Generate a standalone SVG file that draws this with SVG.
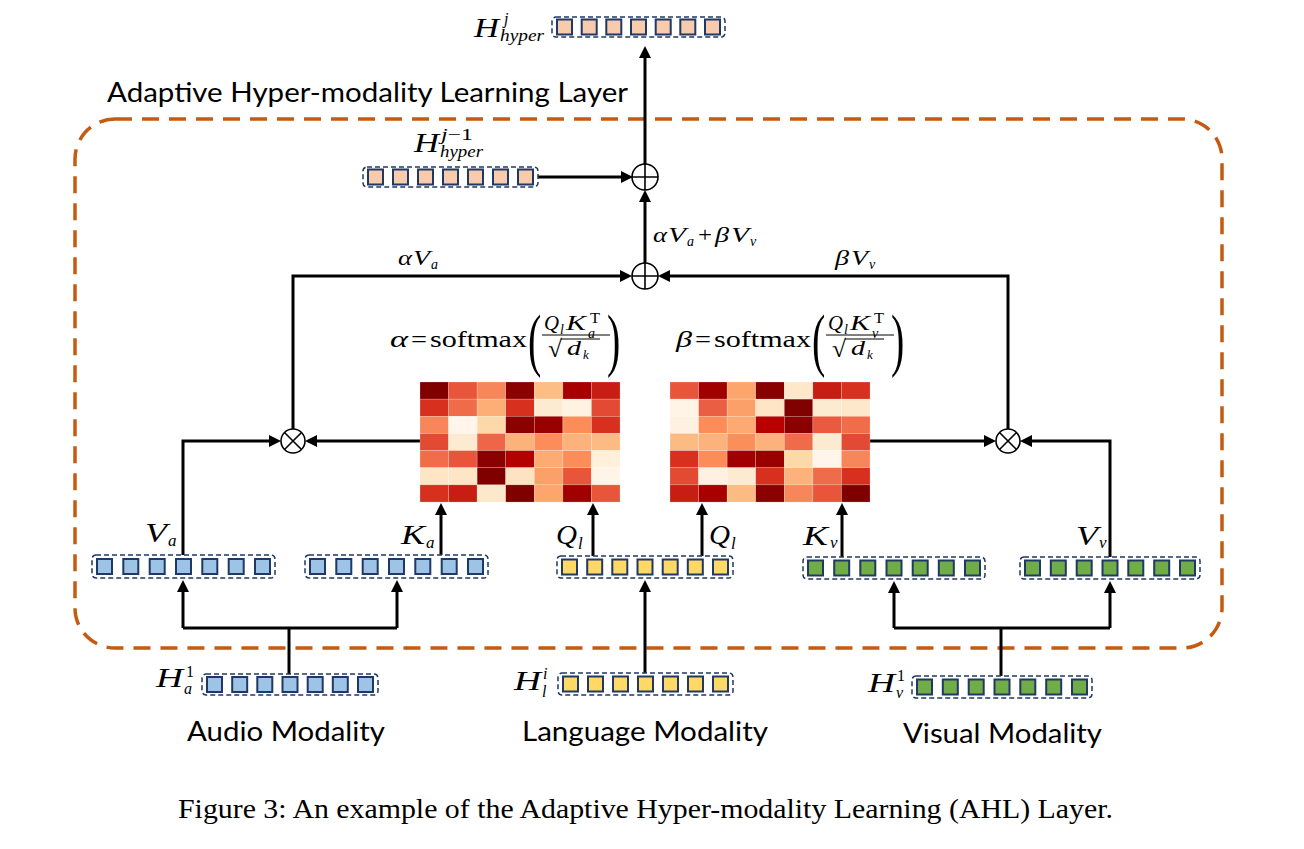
<svg xmlns="http://www.w3.org/2000/svg" width="1304" height="849" viewBox="0 0 1304 849">
  <style>
    .c { stroke: #000; stroke-width: 3; fill: none; }
    .arr { marker-end: url(#ah); }
    .box { fill: none; stroke: #1f3864; stroke-width: 1.5; stroke-dasharray: 5 3; }
    .sq { stroke: #1f3864; stroke-width: 2; }
    .blue { fill: #9dc3e6; }
    .yel { fill: #ffd966; }
    .grn { fill: #70ad47; }
    .pch { fill: #f8cbad; }
    .op { fill: #fff; stroke: #000; stroke-width: 1.6; }
    .mi { font-family: "Liberation Serif", "Times New Roman", serif; font-style: italic; fill: #000; }
    .mr { font-family: "Liberation Serif", "Times New Roman", serif; fill: #000; }
    .sans { font-family: Lato, "Open Sans", "Liberation Sans", sans-serif; fill: #000; font-size: 26px; }
    .cell { stroke: #fff; stroke-opacity: 0.35; stroke-width: 0.6; }
  </style>
  <defs>
    <marker id="ah" markerUnits="userSpaceOnUse" markerWidth="12" markerHeight="12" viewBox="0 0 12 12" refX="3" refY="6" orient="auto">
      <path d="M0,0 L12,6 L0,12 z" fill="#000"/>
    </marker>
  </defs>

  <rect width="1304" height="849" fill="#fff"/>

  <!-- layer frame -->
  <g id="ahl-frame">
    <rect x="75" y="119" width="1147" height="529" rx="40" ry="40" fill="none" stroke="#c55a11" stroke-width="3.5" stroke-dasharray="17 10"/>
    <text class="sans" x="107" y="102" textLength="521" lengthAdjust="spacingAndGlyphs">Adaptive Hyper-modality Learning Layer</text>
  </g>

  <!-- connectors -->
  <g id="connectors">
    <path class="c" d="M289,674 V628"/>
    <path class="c" d="M183,628 H397"/>
    <path class="c arr" d="M183,628 V589"/>
    <path class="c arr" d="M397,628 V589"/>
    <path class="c arr" d="M645,673 V589"/>
    <path class="c" d="M1001,676 V628"/>
    <path class="c" d="M894,628 H1110"/>
    <path class="c arr" d="M894,628 V590"/>
    <path class="c arr" d="M1110,628 V590"/>
    <path class="c arr" d="M441,555 V512"/>
    <path class="c arr" d="M593,556 V512"/>
    <path class="c arr" d="M702,556 V512"/>
    <path class="c arr" d="M842,557 V512"/>
    <path class="c arr" d="M183,555 V441 H272"/>
    <path class="c arr" d="M420,441 H314"/>
    <path class="c arr" d="M293,429 V276 H623"/>
    <path class="c arr" d="M870,441 H987"/>
    <path class="c arr" d="M1110,557 V441 H1029"/>
    <path class="c arr" d="M1008,429 V276 H667"/>
    <path class="c arr" d="M645,263 V199"/>
    <path class="c arr" d="M538,177 H624"/>
    <path class="c arr" d="M645,164 V55"/>
  </g>

  <!-- operators -->
  <g id="mul-audio">
    <circle class="op" cx="293" cy="441" r="12"/>
    <path d="M284.5,432.5 L301.5,449.5 M301.5,432.5 L284.5,449.5" stroke="#000" stroke-width="1.6"/>
  </g>
  <g id="mul-visual">
    <circle class="op" cx="1008" cy="441" r="12"/>
    <path d="M999.5,432.5 L1016.5,449.5 M1016.5,432.5 L999.5,449.5" stroke="#000" stroke-width="1.6"/>
  </g>
  <g id="add-attn">
    <circle class="op" cx="645" cy="276" r="13"/>
    <path d="M632,276 H658 M645,263 V289" stroke="#000" stroke-width="1.6"/>
  </g>
  <g id="add-residual">
    <circle class="op" cx="645" cy="177" r="13"/>
    <path d="M632,177 H658 M645,164 V190" stroke="#000" stroke-width="1.6"/>
  </g>

  <!-- attention maps -->
  <g id="attn-audio" transform="translate(420,382)">
    <rect class="cell" x="0" y="0" width="28.6" height="17.2" fill="#800000"/>
    <rect class="cell" x="28.57" y="0" width="28.6" height="17.2" fill="#e8553a"/>
    <rect class="cell" x="57.14" y="0" width="28.6" height="17.2" fill="#f7875a"/>
    <rect class="cell" x="85.71" y="0" width="28.6" height="17.2" fill="#8b0000"/>
    <rect class="cell" x="114.29" y="0" width="28.6" height="17.2" fill="#fdbe85"/>
    <rect class="cell" x="142.86" y="0" width="28.6" height="17.2" fill="#a80000"/>
    <rect class="cell" x="171.43" y="0" width="28.6" height="17.2" fill="#c81d13"/>

    <rect class="cell" x="0" y="17.14" width="28.6" height="17.2" fill="#d7301f"/>
    <rect class="cell" x="28.57" y="17.14" width="28.6" height="17.2" fill="#ef6c4a"/>
    <rect class="cell" x="57.14" y="17.14" width="28.6" height="17.2" fill="#fcae76"/>
    <rect class="cell" x="85.71" y="17.14" width="28.6" height="17.2" fill="#d7301f"/>
    <rect class="cell" x="114.29" y="17.14" width="28.6" height="17.2" fill="#fdebd1"/>
    <rect class="cell" x="142.86" y="17.14" width="28.6" height="17.2" fill="#fef2e0"/>
    <rect class="cell" x="171.43" y="17.14" width="28.6" height="17.2" fill="#e34a33"/>

    <rect class="cell" x="0" y="34.29" width="28.6" height="17.2" fill="#f7875a"/>
    <rect class="cell" x="28.57" y="34.29" width="28.6" height="17.2" fill="#fff5eb"/>
    <rect class="cell" x="57.14" y="34.29" width="28.6" height="17.2" fill="#fdd8a8"/>
    <rect class="cell" x="85.71" y="34.29" width="28.6" height="17.2" fill="#8b0000"/>
    <rect class="cell" x="114.29" y="34.29" width="28.6" height="17.2" fill="#990000"/>
    <rect class="cell" x="142.86" y="34.29" width="28.6" height="17.2" fill="#fc8d59"/>
    <rect class="cell" x="171.43" y="34.29" width="28.6" height="17.2" fill="#d7301f"/>

    <rect class="cell" x="0" y="51.43" width="28.6" height="17.2" fill="#e34a33"/>
    <rect class="cell" x="28.57" y="51.43" width="28.6" height="17.2" fill="#fdebd1"/>
    <rect class="cell" x="57.14" y="51.43" width="28.6" height="17.2" fill="#ef6548"/>
    <rect class="cell" x="85.71" y="51.43" width="28.6" height="17.2" fill="#fdb27b"/>
    <rect class="cell" x="114.29" y="51.43" width="28.6" height="17.2" fill="#fc8d59"/>
    <rect class="cell" x="142.86" y="51.43" width="28.6" height="17.2" fill="#fdb27b"/>
    <rect class="cell" x="171.43" y="51.43" width="28.6" height="17.2" fill="#fdbb84"/>

    <rect class="cell" x="0" y="68.57" width="28.6" height="17.2" fill="#f16d4a"/>
    <rect class="cell" x="28.57" y="68.57" width="28.6" height="17.2" fill="#e8553a"/>
    <rect class="cell" x="57.14" y="68.57" width="28.6" height="17.2" fill="#8b0000"/>
    <rect class="cell" x="85.71" y="68.57" width="28.6" height="17.2" fill="#b30000"/>
    <rect class="cell" x="114.29" y="68.57" width="28.6" height="17.2" fill="#fdab72"/>
    <rect class="cell" x="142.86" y="68.57" width="28.6" height="17.2" fill="#fc8d59"/>
    <rect class="cell" x="171.43" y="68.57" width="28.6" height="17.2" fill="#fef0db"/>

    <rect class="cell" x="0" y="85.71" width="28.6" height="17.2" fill="#fde5c6"/>
    <rect class="cell" x="28.57" y="85.71" width="28.6" height="17.2" fill="#fde5c6"/>
    <rect class="cell" x="57.14" y="85.71" width="28.6" height="17.2" fill="#800000"/>
    <rect class="cell" x="85.71" y="85.71" width="28.6" height="17.2" fill="#fde3c1"/>
    <rect class="cell" x="114.29" y="85.71" width="28.6" height="17.2" fill="#fca06a"/>
    <rect class="cell" x="142.86" y="85.71" width="28.6" height="17.2" fill="#e8553a"/>
    <rect class="cell" x="171.43" y="85.71" width="28.6" height="17.2" fill="#fff4e8"/>

    <rect class="cell" x="0" y="102.86" width="28.6" height="17.2" fill="#d7301f"/>
    <rect class="cell" x="28.57" y="102.86" width="28.6" height="17.2" fill="#c81d13"/>
    <rect class="cell" x="57.14" y="102.86" width="28.6" height="17.2" fill="#fde8cc"/>
    <rect class="cell" x="85.71" y="102.86" width="28.6" height="17.2" fill="#800000"/>
    <rect class="cell" x="114.29" y="102.86" width="28.6" height="17.2" fill="#fca66e"/>
    <rect class="cell" x="142.86" y="102.86" width="28.6" height="17.2" fill="#a00000"/>
    <rect class="cell" x="171.43" y="102.86" width="28.6" height="17.2" fill="#e8553a"/>
  </g>

  <g id="attn-visual" transform="translate(670,382)">
    <rect class="cell" x="0" y="0" width="28.6" height="17.2" fill="#e8553a"/>
    <rect class="cell" x="28.57" y="0" width="28.6" height="17.2" fill="#a00000"/>
    <rect class="cell" x="57.14" y="0" width="28.6" height="17.2" fill="#fca66e"/>
    <rect class="cell" x="85.71" y="0" width="28.6" height="17.2" fill="#880000"/>
    <rect class="cell" x="114.29" y="0" width="28.6" height="17.2" fill="#fde8cc"/>
    <rect class="cell" x="142.86" y="0" width="28.6" height="17.2" fill="#c81d13"/>
    <rect class="cell" x="171.43" y="0" width="28.6" height="17.2" fill="#d7301f"/>

    <rect class="cell" x="0" y="17.14" width="28.6" height="17.2" fill="#fff4e6"/>
    <rect class="cell" x="28.57" y="17.14" width="28.6" height="17.2" fill="#ea5f43"/>
    <rect class="cell" x="57.14" y="17.14" width="28.6" height="17.2" fill="#fca06a"/>
    <rect class="cell" x="85.71" y="17.14" width="28.6" height="17.2" fill="#fde5c6"/>
    <rect class="cell" x="114.29" y="17.14" width="28.6" height="17.2" fill="#800000"/>
    <rect class="cell" x="142.86" y="17.14" width="28.6" height="17.2" fill="#fdebd1"/>
    <rect class="cell" x="171.43" y="17.14" width="28.6" height="17.2" fill="#fde8cc"/>

    <rect class="cell" x="0" y="34.29" width="28.6" height="17.2" fill="#fff1e2"/>
    <rect class="cell" x="28.57" y="34.29" width="28.6" height="17.2" fill="#fc8d59"/>
    <rect class="cell" x="57.14" y="34.29" width="28.6" height="17.2" fill="#fcaa72"/>
    <rect class="cell" x="85.71" y="34.29" width="28.6" height="17.2" fill="#b80000"/>
    <rect class="cell" x="114.29" y="34.29" width="28.6" height="17.2" fill="#8b0000"/>
    <rect class="cell" x="142.86" y="34.29" width="28.6" height="17.2" fill="#ea5a40"/>
    <rect class="cell" x="171.43" y="34.29" width="28.6" height="17.2" fill="#f16d4a"/>

    <rect class="cell" x="0" y="51.43" width="28.6" height="17.2" fill="#fdbb84"/>
    <rect class="cell" x="28.57" y="51.43" width="28.6" height="17.2" fill="#fdb27b"/>
    <rect class="cell" x="57.14" y="51.43" width="28.6" height="17.2" fill="#fb8f5a"/>
    <rect class="cell" x="85.71" y="51.43" width="28.6" height="17.2" fill="#fdb27b"/>
    <rect class="cell" x="114.29" y="51.43" width="28.6" height="17.2" fill="#ef6c4a"/>
    <rect class="cell" x="142.86" y="51.43" width="28.6" height="17.2" fill="#fdebd1"/>
    <rect class="cell" x="171.43" y="51.43" width="28.6" height="17.2" fill="#e34a33"/>

    <rect class="cell" x="0" y="68.57" width="28.6" height="17.2" fill="#d7301f"/>
    <rect class="cell" x="28.57" y="68.57" width="28.6" height="17.2" fill="#fc8d59"/>
    <rect class="cell" x="57.14" y="68.57" width="28.6" height="17.2" fill="#a00000"/>
    <rect class="cell" x="85.71" y="68.57" width="28.6" height="17.2" fill="#990000"/>
    <rect class="cell" x="114.29" y="68.57" width="28.6" height="17.2" fill="#fdd8a8"/>
    <rect class="cell" x="142.86" y="68.57" width="28.6" height="17.2" fill="#fff5eb"/>
    <rect class="cell" x="171.43" y="68.57" width="28.6" height="17.2" fill="#f7875a"/>

    <rect class="cell" x="0" y="85.71" width="28.6" height="17.2" fill="#e34a33"/>
    <rect class="cell" x="28.57" y="85.71" width="28.6" height="17.2" fill="#fff1e2"/>
    <rect class="cell" x="57.14" y="85.71" width="28.6" height="17.2" fill="#fdebd1"/>
    <rect class="cell" x="85.71" y="85.71" width="28.6" height="17.2" fill="#d7301f"/>
    <rect class="cell" x="114.29" y="85.71" width="28.6" height="17.2" fill="#fdb27b"/>
    <rect class="cell" x="142.86" y="85.71" width="28.6" height="17.2" fill="#ef6c4a"/>
    <rect class="cell" x="171.43" y="85.71" width="28.6" height="17.2" fill="#d7301f"/>

    <rect class="cell" x="0" y="102.86" width="28.6" height="17.2" fill="#c81d13"/>
    <rect class="cell" x="28.57" y="102.86" width="28.6" height="17.2" fill="#a80000"/>
    <rect class="cell" x="57.14" y="102.86" width="28.6" height="17.2" fill="#fdbb84"/>
    <rect class="cell" x="85.71" y="102.86" width="28.6" height="17.2" fill="#8b0000"/>
    <rect class="cell" x="114.29" y="102.86" width="28.6" height="17.2" fill="#f7875a"/>
    <rect class="cell" x="142.86" y="102.86" width="28.6" height="17.2" fill="#e8553a"/>
    <rect class="cell" x="171.43" y="102.86" width="28.6" height="17.2" fill="#800000"/>
  </g>

  <!-- token vectors -->
  <g id="h-hyper-j">
    <rect class="box" x="552" y="17" width="173" height="20" rx="4"/>
    <rect class="sq pch" x="557" y="19.5" width="15" height="15"/>
    <rect class="sq pch" x="581.7" y="19.5" width="15" height="15"/>
    <rect class="sq pch" x="606.3" y="19.5" width="15" height="15"/>
    <rect class="sq pch" x="631" y="19.5" width="15" height="15"/>
    <rect class="sq pch" x="655.7" y="19.5" width="15" height="15"/>
    <rect class="sq pch" x="680.3" y="19.5" width="15" height="15"/>
    <rect class="sq pch" x="705" y="19.5" width="15" height="15"/>
    <text class="mi" x="474" y="37" font-size="28" textLength="25" lengthAdjust="spacingAndGlyphs">H</text>
    <text class="mi" x="504" y="24" font-size="16">j</text>
    <text class="mi" x="500" y="41" font-size="17" textLength="44" lengthAdjust="spacingAndGlyphs">hyper</text>
  </g>

  <g id="h-hyper-prev">
    <rect class="box" x="363" y="167" width="175" height="20" rx="4"/>
    <rect class="sq pch" x="368" y="169.5" width="15" height="15"/>
    <rect class="sq pch" x="393" y="169.5" width="15" height="15"/>
    <rect class="sq pch" x="418" y="169.5" width="15" height="15"/>
    <rect class="sq pch" x="443" y="169.5" width="15" height="15"/>
    <rect class="sq pch" x="468" y="169.5" width="15" height="15"/>
    <rect class="sq pch" x="493" y="169.5" width="15" height="15"/>
    <rect class="sq pch" x="518" y="169.5" width="15" height="15"/>
    <text class="mi" x="414" y="152" font-size="28" textLength="25" lengthAdjust="spacingAndGlyphs">H</text>
    <text class="mi" x="441" y="140" font-size="16" textLength="32" lengthAdjust="spacingAndGlyphs">j<tspan class="mr" font-style="normal">−1</tspan></text>
    <text class="mi" x="440" y="157" font-size="17" textLength="43" lengthAdjust="spacingAndGlyphs">hyper</text>
  </g>

  <g id="v-audio">
    <rect class="box" x="92" y="555" width="183" height="23" rx="4"/>
    <rect class="sq blue" x="97" y="559" width="15" height="15"/>
    <rect class="sq blue" x="123.3" y="559" width="15" height="15"/>
    <rect class="sq blue" x="149.7" y="559" width="15" height="15"/>
    <rect class="sq blue" x="176" y="559" width="15" height="15"/>
    <rect class="sq blue" x="202.3" y="559" width="15" height="15"/>
    <rect class="sq blue" x="228.7" y="559" width="15" height="15"/>
    <rect class="sq blue" x="255" y="559" width="15" height="15"/>
    <text class="mi" x="145" y="542" font-size="28" textLength="22" lengthAdjust="spacingAndGlyphs">V</text>
    <text class="mi" x="168" y="546" font-size="17">a</text>
  </g>

  <g id="k-audio">
    <rect class="box" x="305" y="555" width="183" height="23" rx="4"/>
    <rect class="sq blue" x="310" y="559" width="15" height="15"/>
    <rect class="sq blue" x="336.3" y="559" width="15" height="15"/>
    <rect class="sq blue" x="362.7" y="559" width="15" height="15"/>
    <rect class="sq blue" x="389" y="559" width="15" height="15"/>
    <rect class="sq blue" x="415.3" y="559" width="15" height="15"/>
    <rect class="sq blue" x="441.7" y="559" width="15" height="15"/>
    <rect class="sq blue" x="468" y="559" width="15" height="15"/>
    <text class="mi" x="401" y="544" font-size="28" textLength="24" lengthAdjust="spacingAndGlyphs">K</text>
    <text class="mi" x="426" y="548" font-size="17">a</text>
  </g>

  <g id="q-language">
    <rect class="box" x="557" y="556" width="176" height="22" rx="4"/>
    <rect class="sq yel" x="562" y="559.5" width="15" height="15"/>
    <rect class="sq yel" x="587.2" y="559.5" width="15" height="15"/>
    <rect class="sq yel" x="612.3" y="559.5" width="15" height="15"/>
    <rect class="sq yel" x="637.5" y="559.5" width="15" height="15"/>
    <rect class="sq yel" x="662.7" y="559.5" width="15" height="15"/>
    <rect class="sq yel" x="687.8" y="559.5" width="15" height="15"/>
    <rect class="sq yel" x="713" y="559.5" width="15" height="15"/>
    <text class="mi" x="556" y="544" font-size="28" textLength="21" lengthAdjust="spacingAndGlyphs">Q</text>
    <text class="mi" x="578" y="549" font-size="17">l</text>
    <text class="mi" x="709" y="544" font-size="28" textLength="21" lengthAdjust="spacingAndGlyphs">Q</text>
    <text class="mi" x="731" y="549" font-size="17">l</text>
  </g>

  <g id="k-visual">
    <rect class="box" x="803" y="557" width="182" height="22" rx="4"/>
    <rect class="sq grn" x="808" y="560.5" width="15" height="15"/>
    <rect class="sq grn" x="834.2" y="560.5" width="15" height="15"/>
    <rect class="sq grn" x="860.3" y="560.5" width="15" height="15"/>
    <rect class="sq grn" x="886.5" y="560.5" width="15" height="15"/>
    <rect class="sq grn" x="912.7" y="560.5" width="15" height="15"/>
    <rect class="sq grn" x="938.8" y="560.5" width="15" height="15"/>
    <rect class="sq grn" x="965" y="560.5" width="15" height="15"/>
    <text class="mi" x="803" y="545" font-size="28" textLength="25" lengthAdjust="spacingAndGlyphs">K</text>
    <text class="mi" x="830" y="548" font-size="17">v</text>
  </g>

  <g id="v-visual">
    <rect class="box" x="1020" y="557" width="180" height="22" rx="4"/>
    <rect class="sq grn" x="1025" y="560.5" width="15" height="15"/>
    <rect class="sq grn" x="1050.8" y="560.5" width="15" height="15"/>
    <rect class="sq grn" x="1076.7" y="560.5" width="15" height="15"/>
    <rect class="sq grn" x="1102.5" y="560.5" width="15" height="15"/>
    <rect class="sq grn" x="1128.3" y="560.5" width="15" height="15"/>
    <rect class="sq grn" x="1154.2" y="560.5" width="15" height="15"/>
    <rect class="sq grn" x="1180" y="560.5" width="15" height="15"/>
    <text class="mi" x="1076" y="545" font-size="28" textLength="22" lengthAdjust="spacingAndGlyphs">V</text>
    <text class="mi" x="1099" y="548" font-size="17">v</text>
  </g>

  <g id="h-audio">
    <rect class="box" x="202" y="674" width="176" height="21" rx="4"/>
    <rect class="sq blue" x="207" y="677" width="15" height="15"/>
    <rect class="sq blue" x="232.2" y="677" width="15" height="15"/>
    <rect class="sq blue" x="257.3" y="677" width="15" height="15"/>
    <rect class="sq blue" x="282.5" y="677" width="15" height="15"/>
    <rect class="sq blue" x="307.7" y="677" width="15" height="15"/>
    <rect class="sq blue" x="332.8" y="677" width="15" height="15"/>
    <rect class="sq blue" x="358" y="677" width="15" height="15"/>
    <text class="mi" x="156" y="687" font-size="28" textLength="27" lengthAdjust="spacingAndGlyphs">H</text>
    <text class="mr" x="186" y="677" font-size="16">1</text>
    <text class="mi" x="184" y="694" font-size="16">a</text>
  </g>

  <g id="h-language">
    <rect class="box" x="558" y="673" width="175" height="22" rx="4"/>
    <rect class="sq yel" x="563" y="676.5" width="15" height="15"/>
    <rect class="sq yel" x="588" y="676.5" width="15" height="15"/>
    <rect class="sq yel" x="613" y="676.5" width="15" height="15"/>
    <rect class="sq yel" x="638" y="676.5" width="15" height="15"/>
    <rect class="sq yel" x="663" y="676.5" width="15" height="15"/>
    <rect class="sq yel" x="688" y="676.5" width="15" height="15"/>
    <rect class="sq yel" x="713" y="676.5" width="15" height="15"/>
    <text class="mi" x="514" y="690" font-size="28" textLength="27" lengthAdjust="spacingAndGlyphs">H</text>
    <text class="mi" x="543" y="679" font-size="16">i</text>
    <text class="mi" x="542" y="697" font-size="16">l</text>
  </g>

  <g id="h-visual">
    <rect class="box" x="912" y="676" width="180" height="22" rx="4"/>
    <rect class="sq grn" x="917" y="679.5" width="15" height="15"/>
    <rect class="sq grn" x="942.8" y="679.5" width="15" height="15"/>
    <rect class="sq grn" x="968.7" y="679.5" width="15" height="15"/>
    <rect class="sq grn" x="994.5" y="679.5" width="15" height="15"/>
    <rect class="sq grn" x="1020.3" y="679.5" width="15" height="15"/>
    <rect class="sq grn" x="1046.2" y="679.5" width="15" height="15"/>
    <rect class="sq grn" x="1072" y="679.5" width="15" height="15"/>
    <text class="mi" x="868" y="692" font-size="28" textLength="27" lengthAdjust="spacingAndGlyphs">H</text>
    <text class="mr" x="897" y="681" font-size="16">1</text>
    <text class="mi" x="896" y="698" font-size="16">v</text>
  </g>

  <!-- weighted sums -->
  <g id="label-alpha-va">
    <text class="mi" x="398" y="265" font-size="22" textLength="14" lengthAdjust="spacingAndGlyphs">α</text>
    <text class="mi" x="413" y="265" font-size="22" textLength="17" lengthAdjust="spacingAndGlyphs">V</text>
    <text class="mi" x="431" y="269" font-size="14">a</text>
  </g>
  <g id="label-beta-vv">
    <text class="mi" x="835" y="265" font-size="22" textLength="14" lengthAdjust="spacingAndGlyphs">β</text>
    <text class="mi" x="851" y="265" font-size="22" textLength="17" lengthAdjust="spacingAndGlyphs">V</text>
    <text class="mi" x="869" y="269" font-size="14">v</text>
  </g>
  <g id="label-sum">
    <text class="mi" x="653" y="242" font-size="22" textLength="14" lengthAdjust="spacingAndGlyphs">α</text>
    <text class="mi" x="668" y="242" font-size="22" textLength="18" lengthAdjust="spacingAndGlyphs">V</text>
    <text class="mi" x="687" y="246" font-size="14">a</text>
    <text class="mr" x="698" y="242" font-size="22" textLength="14" lengthAdjust="spacingAndGlyphs">+</text>
    <text class="mi" x="715" y="242" font-size="22" textLength="14" lengthAdjust="spacingAndGlyphs">β</text>
    <text class="mi" x="731" y="242" font-size="22" textLength="18" lengthAdjust="spacingAndGlyphs">V</text>
    <text class="mi" x="750" y="246" font-size="14">v</text>
  </g>

  <!-- attention formulas; tall brackets are stretched vertically -->
  <g id="formula-alpha">
    <text class="mi" x="390" y="347" font-size="24" textLength="18" lengthAdjust="spacingAndGlyphs">α</text>
    <text class="mr" x="411" y="347" font-size="24" textLength="16" lengthAdjust="spacingAndGlyphs">=</text>
    <text class="mr" x="430" y="347" font-size="24" textLength="97" lengthAdjust="spacingAndGlyphs">softmax</text>
    <text class="mr" transform="translate(528,363) scale(1,1.75)" font-size="40">(</text>
    <text class="mi" x="544" y="330" font-size="22" textLength="15" lengthAdjust="spacingAndGlyphs">Q</text>
    <text class="mi" x="560" y="334" font-size="14">l</text>
    <text class="mi" x="566" y="330" font-size="22" textLength="20" lengthAdjust="spacingAndGlyphs">K</text>
    <text class="mr" x="590" y="323" font-size="14" textLength="10" lengthAdjust="spacingAndGlyphs">T</text>
    <text class="mi" x="588" y="338" font-size="14">a</text>
    <line x1="542" y1="335" x2="610" y2="335" stroke="#000" stroke-width="1"/>
    <text class="mr" x="548" y="357" font-size="24" textLength="14" lengthAdjust="spacingAndGlyphs">√</text>
    <line x1="561" y1="339" x2="600" y2="339" stroke="#000" stroke-width="1"/>
    <text class="mi" x="567" y="355" font-size="22" textLength="14" lengthAdjust="spacingAndGlyphs">d</text>
    <text class="mi" x="583" y="359" font-size="13">k</text>
    <text class="mr" transform="translate(607,363) scale(1,1.75)" font-size="40">)</text>
  </g>
  <g id="formula-beta">
    <text class="mi" x="676" y="347" font-size="24" textLength="16" lengthAdjust="spacingAndGlyphs">β</text>
    <text class="mr" x="695" y="347" font-size="24" textLength="16" lengthAdjust="spacingAndGlyphs">=</text>
    <text class="mr" x="714" y="347" font-size="24" textLength="97" lengthAdjust="spacingAndGlyphs">softmax</text>
    <text class="mr" transform="translate(812,363) scale(1,1.75)" font-size="40">(</text>
    <text class="mi" x="828" y="330" font-size="22" textLength="15" lengthAdjust="spacingAndGlyphs">Q</text>
    <text class="mi" x="844" y="334" font-size="14">l</text>
    <text class="mi" x="850" y="330" font-size="22" textLength="20" lengthAdjust="spacingAndGlyphs">K</text>
    <text class="mr" x="874" y="323" font-size="14" textLength="10" lengthAdjust="spacingAndGlyphs">T</text>
    <text class="mi" x="872" y="338" font-size="14">v</text>
    <line x1="826" y1="335" x2="894" y2="335" stroke="#000" stroke-width="1"/>
    <text class="mr" x="832" y="357" font-size="24" textLength="14" lengthAdjust="spacingAndGlyphs">√</text>
    <line x1="845" y1="339" x2="884" y2="339" stroke="#000" stroke-width="1"/>
    <text class="mi" x="851" y="355" font-size="22" textLength="14" lengthAdjust="spacingAndGlyphs">d</text>
    <text class="mi" x="867" y="359" font-size="13">k</text>
    <text class="mr" transform="translate(891,363) scale(1,1.75)" font-size="40">)</text>
  </g>

  <!-- modality names -->
  <g id="modality-labels">
    <text class="sans" x="187" y="741" textLength="198" lengthAdjust="spacingAndGlyphs">Audio Modality</text>
    <text class="sans" x="522" y="741" textLength="246" lengthAdjust="spacingAndGlyphs">Language Modality</text>
    <text class="sans" x="903" y="743" textLength="199" lengthAdjust="spacingAndGlyphs">Visual Modality</text>
  </g>

  <text class="mr" x="178" y="818" font-size="27" textLength="935" lengthAdjust="spacingAndGlyphs">Figure 3: An example of the Adaptive Hyper-modality Learning (AHL) Layer.</text>
</svg>
